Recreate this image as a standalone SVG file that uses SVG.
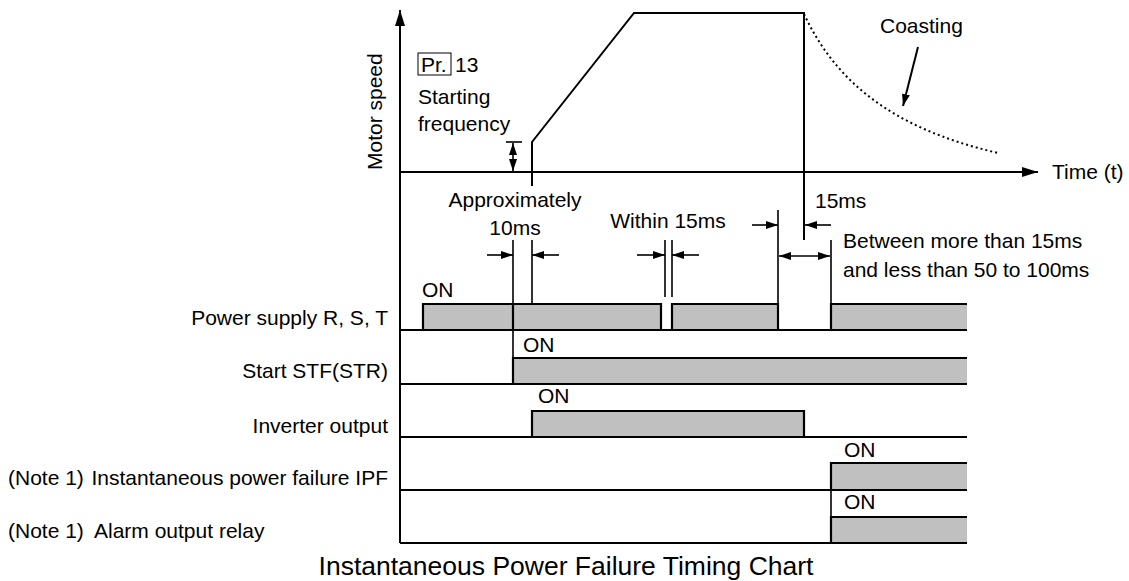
<svg xmlns="http://www.w3.org/2000/svg" width="1129" height="581" viewBox="0 0 1129 581">
<style>
text{font-family:"Liberation Sans",Arial,sans-serif;font-size:21px;fill:#000}
.ln{stroke:#000;stroke-width:2;fill:none}
.dm{stroke:#000;stroke-width:1.6;fill:none}
.bar{fill:#c0c0c0;stroke:none}
.be{stroke:#000;stroke-width:2.2;fill:none}
.dot{stroke:#000;stroke-width:2;fill:none;stroke-dasharray:2 3}
</style>
<defs>
<marker id="a" viewBox="0 0 12 8" refX="12" refY="4" markerWidth="12" markerHeight="8" markerUnits="userSpaceOnUse" orient="auto-start-reverse"><path d="M0,0 L12,4 L0,8 z" fill="#000"/></marker>
<marker id="A" viewBox="0 0 16 10" refX="16" refY="5" markerWidth="16" markerHeight="10" markerUnits="userSpaceOnUse" orient="auto"><path d="M0,0 L16,5 L0,10 z" fill="#000"/></marker>
</defs>
<rect width="1129" height="581" fill="#fff"/>

<g id="axes">
<path class="ln" d="M400,543 L400,10" marker-end="url(#A)"/>
<path class="ln" d="M400,172 L1038,172" marker-end="url(#A)"/>
<text transform="translate(382,170) rotate(-90)">Motor speed</text>
<text x="1052" y="179">Time (t)</text>
</g>

<g id="speed-curve">
<path class="ln" d="M532,186 L532,142 L634,13 L804,13 L804,240"/>
<path class="dot" d="M804,14 C835,80 890,128 998,153"/>
<text x="880" y="33">Coasting</text>
<path class="ln" d="M918,47 L903,106" marker-end="url(#a)"/>
</g>

<g id="starting-frequency">
<rect x="418" y="53" width="33" height="22" fill="none" stroke="#000" stroke-width="1"/>
<text x="421" y="72">Pr.</text>
<text x="455" y="72">13</text>
<text x="418" y="104">Starting</text>
<text x="418" y="131">frequency</text>
<path class="dm" d="M506,142 L522,142"/>
<path class="dm" d="M513,143 L513,171" marker-start="url(#a)" marker-end="url(#a)"/>
</g>

<g id="connectors">
<path class="dm" d="M513,240 L513,358"/>
<path class="dm" d="M532,240 L532,305"/>
<path class="dm" d="M487,255 L513,255" marker-end="url(#a)"/>
<path class="dm" d="M559,255 L532,255" marker-end="url(#a)"/>
<path class="dm" d="M665,240 L665,297"/>
<path class="dm" d="M672,240 L672,297"/>
<path class="dm" d="M637,255 L665,255" marker-end="url(#a)"/>
<path class="dm" d="M699,255 L672,255" marker-end="url(#a)"/>
<path class="dm" d="M778,210 L778,305"/>
<path class="dm" d="M831,240 L831,305"/>
<path class="dm" d="M752,225 L778,225" marker-end="url(#a)"/>
<path class="dm" d="M831,225 L805,225" marker-end="url(#a)"/>
<path class="dm" d="M779,256 L830,256" marker-start="url(#a)" marker-end="url(#a)"/>
<path class="dm" d="M831,490 L831,517"/>
</g>

<g id="annotations">
<text x="515" y="207" text-anchor="middle">Approximately</text>
<text x="515" y="235" text-anchor="middle">10ms</text>
<text x="668" y="228" text-anchor="middle">Within 15ms</text>
<text x="815" y="208">15ms</text>
<text x="843" y="248">Between more than 15ms</text>
<text x="843" y="277">and less than 50 to 100ms</text>
</g>

<g id="row-power">
<rect class="bar" x="423" y="304" width="544" height="26"/>
<rect x="661" y="303" width="11" height="28" fill="#fff"/>
<rect x="778" y="303" width="53" height="28" fill="#fff"/>
<path class="be" d="M423,330 L423,304 L513,304 L513,330 M513,304 L661,304 L661,330 M672,330 L672,304 L778,304 L778,330 M831,330 L831,304 L967,304"/>
<path class="ln" d="M400,330 L967,330"/>
<text x="422" y="297">ON</text>
<text x="388" y="325" text-anchor="end">Power supply R, S, T</text>
</g>

<g id="row-start">
<rect class="bar" x="513" y="358" width="454" height="26"/>
<path class="be" d="M513,384 L513,358 L967,358"/>
<path class="ln" d="M400,384 L967,384"/>
<text x="523" y="352">ON</text>
<text x="388" y="378" text-anchor="end">Start STF(STR)</text>
</g>

<g id="row-inverter">
<rect class="bar" x="532" y="411" width="272" height="26"/>
<path class="be" d="M532,437 L532,411 L804,411 L804,437"/>
<path class="ln" d="M400,437 L967,437"/>
<text x="538" y="403">ON</text>
<text x="388" y="433" text-anchor="end">Inverter output</text>
</g>

<g id="row-ipf">
<rect class="bar" x="831" y="463" width="136" height="27"/>
<path class="be" d="M831,490 L831,463 L967,463"/>
<path class="ln" d="M400,490 L967,490"/>
<text x="844" y="457">ON</text>
<text x="8" y="485">(Note 1)</text>
<text x="388" y="485" text-anchor="end">Instantaneous power failure IPF</text>
</g>

<g id="row-alarm">
<rect class="bar" x="831" y="517" width="136" height="26"/>
<path class="be" d="M831,543 L831,517 L967,517"/>
<path class="ln" d="M400,543 L967,543"/>
<text x="844" y="509">ON</text>
<text x="8" y="538">(Note 1)</text>
<text x="94" y="538">Alarm output relay</text>
</g>

<g id="title">
<text x="566" y="575" text-anchor="middle" style="font-size:26.5px">Instantaneous Power Failure Timing Chart</text>
</g>
</svg>
